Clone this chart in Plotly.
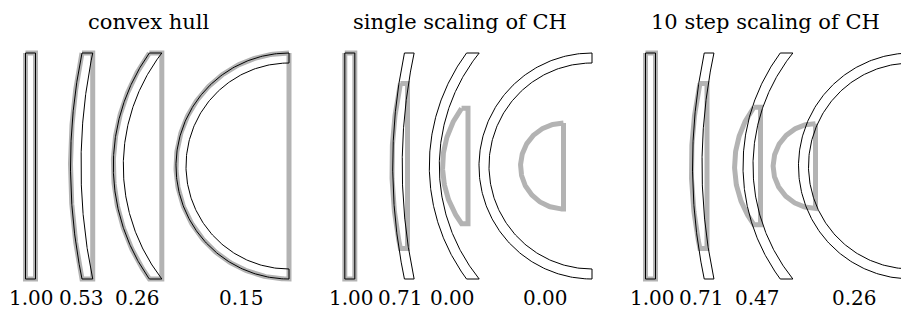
import numpy as np
import plotly.graph_objects as go

# ---- data ----
panel_titles = ["convex hull", "single scaling of CH", "10 step scaling of CH"]
scores = [
    ["1.00", "0.53", "0.26", "0.15"],
    ["1.00", "0.71", "0.00", "0.00"],
    ["1.00", "0.71", "0.47", "0.26"],
]
# shape geometry per panel: outer leftmost x, outer radius, thickness
shape_left = [
    [25.5, 70.5, 113.3, 176.0],
    [344.8, 392.7, 429.3, 479.0],
    [645.5, 692.5, 743.0, 798.5],
]
shape_radius = [
    [1e6, 561.0, 195.0, 113.0],
    [1e6, 550.0, 190.0, 113.0],
    [1e6, 550.0, 190.0, 113.0],
]
shape_thick = [
    [10.0, 10.5, 10.0, 10.0],
    [10.0, 9.5, 10.0, 10.0],
    [10.0, 9.5, 10.0, 10.0],
]
# gray scaled convex hull (panels 2,3): scale factor and chord x (None = same as hull)
hull_scale = [
    [1.0, 1.0, 1.0, 1.0],
    [1.0, 0.73, 0.51, 0.38],
    [1.0, 0.73, 0.52, 0.375],
]
hull_chord = [
    [None, None, None, None],
    [None, 407.5, 468.0, 563.5],
    [None, 707.0, 760.5, 815.5],
]
# layout positions of texts
title_x = [148.5, 460.0, 765.0]
label_x = [
    [31, 81, 137, 241],
    [351, 400, 452, 545],
    [652, 701, 757, 854],
]

CY, H = 166.0, 113.0
GRAY = "#b3b3b3"


def arc(cx, R, a0, a1, n=200):
    phi = np.linspace(a0, a1, n)
    return cx + R * np.cos(phi), CY - R * np.sin(phi)


def shape_geom(L, R, t):
    cx = L + R
    r = R - t
    a = np.arcsin(min(H / R, 1.0))
    ox, oy = arc(cx, R, np.pi - a, np.pi + a)
    if r >= H:
        b = np.arcsin(H / r)
    else:
        b = np.pi / 2
    ix, iy = arc(cx, r, np.pi + b, np.pi - b)
    outline_x = np.concatenate([ox, ix, ox[:1]])
    outline_y = np.concatenate([oy, iy, oy[:1]])
    # convex hull: outer arc + caps + chord through inner ends
    hx = np.concatenate([ox, ix[:1], ix[-1:], ox[:1]])
    hy = np.concatenate([oy, iy[:1], iy[-1:], oy[:1]])
    chord = ix[0]
    return outline_x, outline_y, hx, hy, chord


fig = go.Figure()
annotations = []

for p in range(3):
    for k in range(4):
        L, R, t = shape_left[p][k], shape_radius[p][k], shape_thick[p][k]
        ox, oy, hx, hy, chord = shape_geom(L, R, t)
        s = hull_scale[p][k]
        xg = hull_chord[p][k] if hull_chord[p][k] is not None else chord
        gx = xg + s * (hx - chord)
        gy = CY + s * (hy - CY)
        fig.add_trace(go.Scatter(x=gx, y=gy, mode="lines",
                                 line=dict(color=GRAY, width=5),
                                 hoverinfo="skip", showlegend=False))
        fig.add_trace(go.Scatter(x=ox, y=oy, mode="lines",
                                 line=dict(color="black", width=1),
                                 hoverinfo="skip", showlegend=False))
        annotations.append(dict(x=label_x[p][k], y=298, xref="x", yref="y",
                                text=scores[p][k], showarrow=False,
                                xanchor="center", yanchor="middle",
                                font=dict(family="DejaVu Serif", size=20, color="black")))
    annotations.append(dict(x=title_x[p], y=22, xref="x", yref="y",
                            text=panel_titles[p], showarrow=False,
                            xanchor="center", yanchor="middle",
                            font=dict(family="DejaVu Serif", size=21, color="black")))

fig.update_layout(
    width=901, height=320,
    margin=dict(l=0, r=0, t=0, b=0),
    paper_bgcolor="white", plot_bgcolor="white",
    xaxis=dict(range=[0, 901], visible=False, fixedrange=True),
    yaxis=dict(range=[320, 0], visible=False, fixedrange=True),
    annotations=annotations,
)

fig.write_html("out.html", config={"displayModeBar": False},
               post_script="document.body.style.margin='0px';document.body.style.overflow='hidden';")
